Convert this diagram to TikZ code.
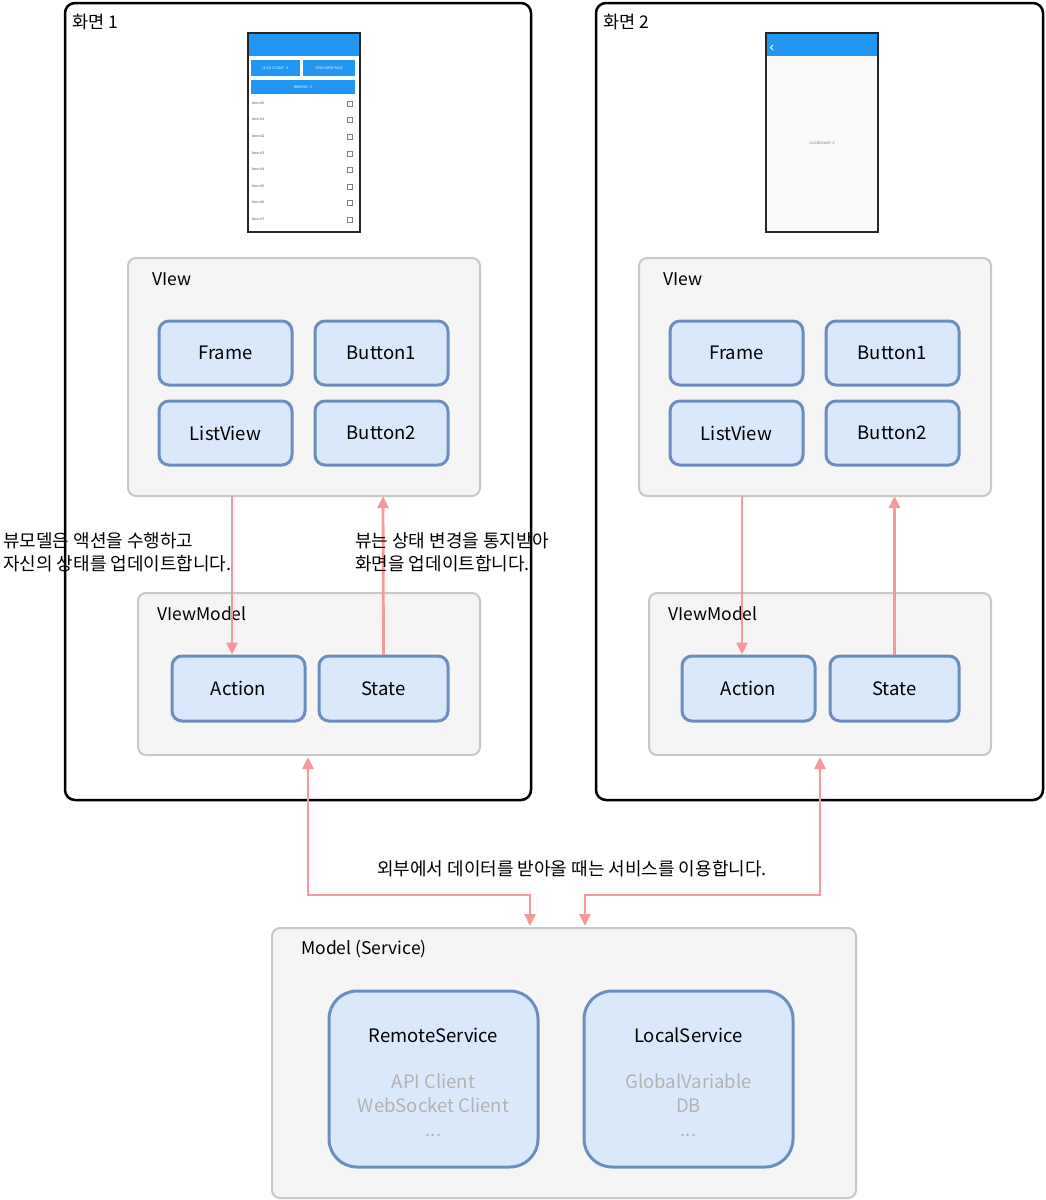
\documentclass[tikz,border=0pt]{standalone}
\usepackage{fontspec}
\setmainfont{Noto Sans CJK KR}
\usetikzlibrary{arrows.meta}
\definecolor{pinkA}{HTML}{F59A9A}
\definecolor{boxF}{HTML}{F5F5F5}
\definecolor{boxD}{HTML}{C8C8C8}
\definecolor{inF}{HTML}{DAE8FC}
\definecolor{inD}{HTML}{6C8EBF}
\definecolor{phB}{HTML}{2196F3}
\tikzset{
 screen/.style={draw=black,line width=2.5pt,rounded corners=10pt},
 grp/.style={draw=boxD,fill=boxF,line width=2pt,rounded corners=8pt},
 item/.style={draw=inD,fill=inF,line width=3pt,rounded corners=10pt,font=\fontsize{18.5}{20}\selectfont},
 svc/.style={draw=inD,fill=inF,line width=3pt,rounded corners=28pt},
 lbl/.style={font=\fontsize{17.5}{20}\selectfont,anchor=west,inner sep=0},
 note/.style={font=\fontsize{18}{23}\selectfont,align=left,anchor=west,inner sep=0},
 conn/.style={draw=pinkA,line width=2.8pt,-{Triangle[length=12pt,width=11pt]}},
 conn2/.style={draw=pinkA,line width=2.8pt,{Triangle[length=12pt,width=11pt]}-{Triangle[length=12pt,width=11pt]}},
 phone/.style={draw=black!85,line width=1.8pt,fill=white},
 tiny/.style={font=\fontsize{3.5}{4}\selectfont,inner sep=0},
}
\begin{document}
\begin{tikzpicture}[x=1pt,y=-1pt]
\useasboundingbox (0,0) rectangle (1045,1200);
% screens
\draw[screen] (65,3) rectangle (531,800);
\node[lbl] (t1) at (72,22) {화면 1};
\draw[screen] (596,3) rectangle (1043,800);
\node[lbl] (t2) at (603,22) {화면 2};
% phone 1
\draw[phone] (248,33) rectangle (360,232);
\fill[phB] (249,34) rectangle (359,56);
\fill[phB] (251,60) rectangle (300,76);
\fill[phB] (303,60) rectangle (355,76);
\fill[phB] (251,80) rectangle (355,94);
\node[tiny,white] (p1) at (275,68) {CLICK COUNT : 0};
\node[tiny,white] (p2) at (329,68) {OPEN NEW PAGE};
\node[tiny,white] (p3) at (303,87) {REMOVE : 0};
\foreach \i in {0,...,7}{
 \node[tiny,anchor=west,black!70] (it\i) at (252,{103+16.6*\i}) {Item \#\i};
 \draw[black!50,line width=0.4pt] (347.5,{101+16.6*\i}) rectangle (352.5,{106+16.6*\i});
}
% phone 2
\draw[phone] (766,33) rectangle (878,232);
\fill[black!2] (767,56) rectangle (877,231);
\fill[phB] (767,34) rectangle (877,56);
\draw[white,line width=0.8pt] (773,45) -- (770.5,47.5) -- (773,50);
\node[tiny,black!60] (p4) at (822,143) {CLICKCOUNT: 0};
% view groups
\foreach \s/\dx in {1/0,2/511}{
 \begin{scope}[xshift=\dx]
 \draw[grp] (128,258) rectangle (480,496);
 \node[lbl] (vl\s) at (152,279) {VIew};
 \node[item,minimum width=133,minimum height=64] (frame\s) at (225.5,353) {Frame};
 \node[item,minimum width=133,minimum height=64] (btna\s) at (381.5,353) {Button1};
 \node[item,minimum width=133,minimum height=64] (list\s) at (225.5,433) {ListView};
 \node[item,minimum width=133,minimum height=64] (btnb\s) at (381.5,433) {Button2};
 \draw[grp] (138,593) rectangle (480,755);
 \node[lbl] (vml\s) at (157,614) {VIewModel};
 \coordinate (vbot\s) at (232,496);
 \coordinate (vbotr\s) at (383,496);
 \coordinate (vmtop\s) at (308,757);
 \end{scope}
}
\node[item,minimum width=133,minimum height=65] (act1) at (238.5,688.5) {Action};
\node[item,minimum width=129,minimum height=65] (st1) at (383.5,688.5) {State};
\node[item,minimum width=133,minimum height=65] (act2) at (748.5,688.5) {Action};
\node[item,minimum width=129,minimum height=65] (st2) at (894.5,688.5) {State};
% arrows inside
\draw[conn] (vbot1) -- (vbot1 |- act1.north);
\draw[conn] (st1.north) -- (vbotr1);
\draw[conn] (742,496) -- (act2.north -| 742,0);
\draw[conn] (st2.north) -- (st2.north |- vbot2);
% notes
\node[note] (n1) at (3,552) {뷰모델은 액션을 수행하고\\자신의 상태를 업데이트합니다.};
\node[note] (n2) at (355,552) {뷰는 상태 변경을 통지받아\\화면을 업데이트합니다.};
% model
\draw[grp] (272,928) rectangle (856,1198);
\node[lbl] (ml) at (301,949) {Model (Service)};
\node[svc,minimum width=209,minimum height=176] (rs) at (433.5,1079) {};
\node[svc,minimum width=209,minimum height=176] (ls) at (688.5,1079) {};
\node[font=\fontsize{18.5}{20}\selectfont] (rst) at (433.5,1035) {RemoteService};
\node[font=\fontsize{18.5}{24}\selectfont,align=center,text=black!30] (rsb) at (433.5,1105) {API Client\\WebSocket Client\\...};
\node[font=\fontsize{18.5}{20}\selectfont] (lst) at (688.5,1035) {LocalService};
\node[font=\fontsize{18.5}{24}\selectfont,align=center,text=black!30] (lsb) at (688.5,1105) {GlobalVariable\\DB\\...};
\coordinate (m1) at (530,926);
\coordinate (m2) at (585,926);
\draw[conn2] (vmtop1) |- (530,895) -- (m1);
\draw[conn2] (820,757) |- (585,895) -- (m2);
\node[font=\fontsize{18}{20}\selectfont] (ext) at (572,869) {외부에서 데이터를 받아올 때는 서비스를 이용합니다.};
\end{tikzpicture}
\end{document}
